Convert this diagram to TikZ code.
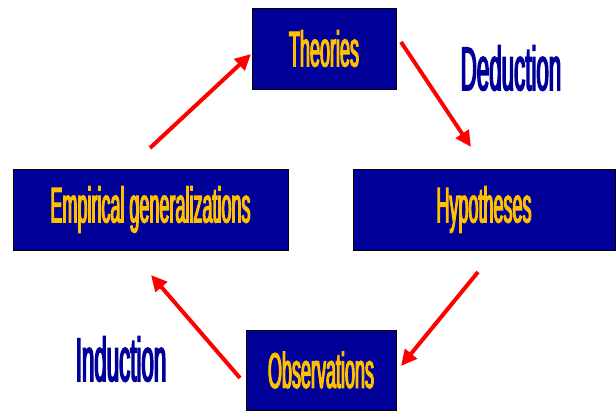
\documentclass[tikz,border=0pt]{standalone}
\usepackage{fontspec}
\usetikzlibrary{arrows.meta}
\newfontfamily\condfont{Liberation Sans}[FakeStretch=0.36, FakeBold=2.2]
\definecolor{boxblue}{HTML}{000099}
\definecolor{txtyellow}{HTML}{FFC000}
\definecolor{arrred}{HTML}{FF0000}
\begin{document}
\begin{tikzpicture}[x=1pt,y=-1pt,
  stagebox/.style={draw=black, line width=0.8pt, fill=boxblue, text=txtyellow,
    font=\condfont\fontsize{50}{50}\selectfont, inner sep=0pt, minimum height=81pt},
  label/.style={text=boxblue, font=\condfont\fontsize{62}{62}\selectfont, inner sep=0pt},
  cyc/.style={draw=arrred, line width=4pt, -{Triangle[length=16pt,width=15pt]}}]
\useasboundingbox (0,0) rectangle (616,411);
\node[stagebox, minimum width=144pt] (theo) at (324,48.5) {Theories};
\node[stagebox, minimum width=275pt] (emp) at (150.5,209.5) {Empirical generalizations};
\node[stagebox, minimum width=262pt] (hyp) at (484,209.5) {Hypotheses};
\node[stagebox, minimum width=150pt, minimum height=80pt] (obs) at (321,370) {Observations};
\node[label] (ded) at (511,68) {Deduction};
\node[label] (ind) at (121,359) {Induction};
\coordinate (a1s) at (401,42);
\coordinate (a1e) at (471,147);
\coordinate (a2s) at (478,272);
\coordinate (a2e) at (401,366);
\coordinate (a3s) at (240,378);
\coordinate (a3e) at (151,275);
\coordinate (a4s) at (150,148);
\coordinate (a4e) at (251,54);
\draw[cyc] (a1s) -- (a1e);
\draw[cyc] (a2s) -- (a2e);
\draw[cyc] (a3s) -- (a3e);
\draw[cyc] (a4s) -- (a4e);
\end{tikzpicture}
\end{document}
